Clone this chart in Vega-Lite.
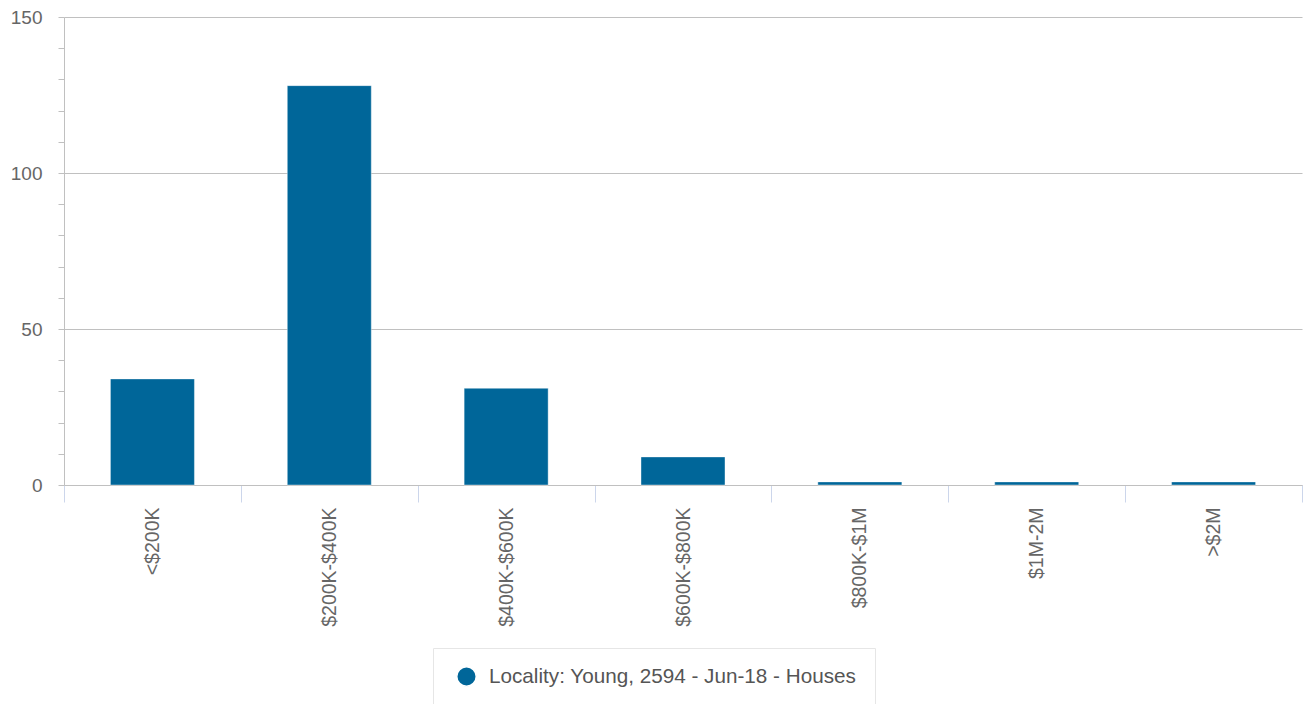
{
  "$schema": "https://vega.github.io/schema/vega-lite/v6.json",
  "autosize": {"type": "none"},
  "padding": {"left": 64, "top": 17, "right": 2, "bottom": 219},
  "width": 1238,
  "height": 468,
  "background": "white",
  "config": {
    "view": {"stroke": null},
    "font": "Liberation Sans"
  },
  "data": {
    "values": [
      {"range": "<$200K", "count": 34, "series": "Locality: Young, 2594 - Jun-18 - Houses"},
      {"range": "$200K-$400K", "count": 128, "series": "Locality: Young, 2594 - Jun-18 - Houses"},
      {"range": "$400K-$600K", "count": 31, "series": "Locality: Young, 2594 - Jun-18 - Houses"},
      {"range": "$600K-$800K", "count": 9, "series": "Locality: Young, 2594 - Jun-18 - Houses"},
      {"range": "$800K-$1M", "count": 1, "series": "Locality: Young, 2594 - Jun-18 - Houses"},
      {"range": "$1M-2M", "count": 1, "series": "Locality: Young, 2594 - Jun-18 - Houses"},
      {"range": ">$2M", "count": 1, "series": "Locality: Young, 2594 - Jun-18 - Houses"}
    ]
  },
  "mark": {"type": "bar", "width": {"band": 0.475}, "stroke": "white", "strokeWidth": 1, "strokeOpacity": 0.4},
  "encoding": {
    "x": {
      "field": "range",
      "type": "nominal",
      "sort": null,
      "scale": {"paddingInner": 0, "paddingOuter": 0},
      "axis": {
        "title": null,
        "labelAngle": -90,
        "labelFontSize": 19.5,
        "labelColor": "#666666",
        "labelPadding": 5,
        "tickBand": "extent",
        "tickSize": 17,
        "tickColor": "#ccd6eb",
        "tickWidth": 1,
        "domainColor": "#c0c0c0",
        "domainWidth": 1,
        "grid": false
      }
    },
    "y": {
      "field": "count",
      "type": "quantitative",
      "scale": {"domain": [0, 150], "nice": false},
      "axis": {
        "title": null,
        "values": [0, 10, 20, 30, 40, 50, 60, 70, 80, 90, 100, 110, 120, 130, 140, 150],
        "labelExpr": "datum.value % 50 === 0 ? datum.label : ''",
        "labelFontSize": 19,
        "labelColor": "#666666",
        "labelPadding": 16,
        "tickSize": 6,
        "tickColor": "#c0c0c0",
        "domainColor": "#c0c0c0",
        "grid": true,
        "gridColor": "#c0c0c0",
        "gridOpacity": {"condition": {"test": "datum.value % 50 === 0", "value": 1}, "value": 0}
      }
    },
    "color": {
      "field": "series",
      "type": "nominal",
      "scale": {"range": ["#006699"]},
      "legend": {
        "title": null,
        "orient": "none",
        "legendX": 369,
        "legendY": 631,
        "symbolType": "circle",
        "symbolSize": 380,
        "symbolOffset": 5,
        "labelOffset": 12,
        "labelFontSize": 20.7,
        "labelColor": "#555555",
        "labelLimit": 0,
        "padding": 18,
        "strokeColor": "#e6e6e6",
        "fillColor": "white"
      }
    }
  }
}
